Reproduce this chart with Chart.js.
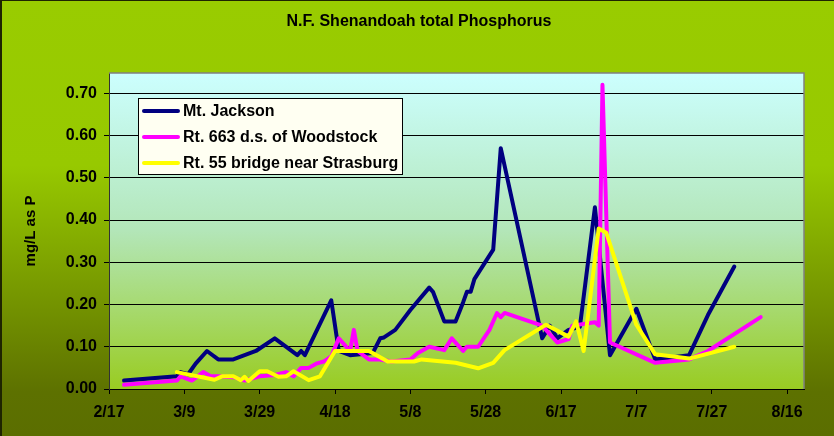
<!DOCTYPE html>
<html>
<head>
<meta charset="utf-8">
<script src="https://cdn.jsdelivr.net/npm/chart.js@4.4.0/dist/chart.umd.min.js"></script>
<style>
  html, body { margin: 0; padding: 0; background: #5c7000; }
  #wrap { width: 834px; height: 436px; }
</style>
</head>
<body>
<div id="wrap"><canvas id="phos" width="834" height="436"></canvas></div>
<script>
// x axis tick labels (every 20 days)
const tickLabels = ['2/17', '3/9', '3/29', '4/18', '5/8', '5/28', '6/17', '7/7', '7/27', '8/16'];

const seriesNames = ['Mt. Jackson', 'Rt. 663 d.s. of Woodstock', 'Rt. 55 bridge near Strasburg'];

// Mt. Jackson
const jacksonDates = ['2/21', '3/7', '3/8', '3/10', '3/12', '3/15', '3/18', '3/22', '3/28', '4/2', '4/8', '4/9', '4/10',
  '4/17', '4/19', '4/22', '4/28', '4/30', '5/1', '5/4', '5/8', '5/13', '5/14', '5/17', '5/20', '5/22', '5/23', '5/24',
  '5/25', '5/30', '6/1', '6/12', '6/14', '6/16', '6/19', '6/22', '6/26', '6/30', '7/7', '7/12', '7/21', '7/26', '8/2'];
const jacksonValues = [0.02, 0.03, 0.04, 0.035, 0.06, 0.09, 0.07, 0.07, 0.09, 0.12, 0.08, 0.09, 0.08,
  0.21, 0.09, 0.08, 0.085, 0.12, 0.122, 0.14, 0.187, 0.24, 0.23, 0.16, 0.16, 0.205, 0.23, 0.23,
  0.26, 0.33, 0.57, 0.12, 0.15, 0.12, 0.14, 0.147, 0.43, 0.08, 0.19, 0.07, 0.08, 0.175, 0.29];

// Rt. 663 d.s. of Woodstock
const woodstockDates = ['2/21', '3/7', '3/8', '3/11', '3/14', '3/16', '3/18', '3/22', '3/25', '3/29', '4/2', '4/5', '4/7',
  '4/9', '4/11', '4/13', '4/15', '4/17', '4/19', '4/22', '4/23', '4/24', '4/27', '4/30', '5/3', '5/8', '5/10', '5/13',
  '5/17', '5/19', '5/22', '5/23', '5/26', '5/29', '5/31', '6/1', '6/2', '6/12', '6/14', '6/16', '6/19', '6/20', '6/26',
  '6/27', '6/28', '6/30', '7/12', '7/21', '7/26', '8/9'];
const woodstockValues = [0.01, 0.02, 0.03, 0.02, 0.04, 0.03, 0.03, 0.028, 0.02, 0.03, 0.033, 0.04, 0.03,
  0.05, 0.05, 0.06, 0.065, 0.077, 0.12, 0.09, 0.14, 0.09, 0.07, 0.07, 0.065, 0.07, 0.085, 0.1,
  0.092, 0.12, 0.09, 0.1, 0.1, 0.14, 0.18, 0.17, 0.18, 0.15, 0.13, 0.11, 0.118, 0.15, 0.158,
  0.15, 0.72, 0.11, 0.062, 0.07, 0.09, 0.17];

// Rt. 55 bridge near Strasburg
const strasburgDates = ['3/7', '3/17', '3/19', '3/22', '3/24', '3/25', '3/26', '3/29', '3/31', '4/3', '4/5', '4/7',
  '4/11', '4/14', '4/18', '4/27', '5/2', '5/9', '5/11', '5/20', '5/26', '5/30', '6/2', '6/13', '6/19', '6/21', '6/23',
  '6/27', '6/29', '7/7', '7/12', '7/21', '8/2'];
const strasburgValues = [0.04, 0.022, 0.03, 0.03, 0.021, 0.029, 0.019, 0.042, 0.042, 0.029, 0.03, 0.042,
  0.021, 0.03, 0.09, 0.09, 0.065, 0.065, 0.07, 0.062, 0.049, 0.062, 0.092, 0.152, 0.124, 0.16, 0.09,
  0.38, 0.37, 0.152, 0.082, 0.072, 0.1];

// days since 2/17
function dayOf(md) {
  const p = md.split('/');
  return (Date.UTC(2003, p[0] - 1, +p[1]) - Date.UTC(2003, 1, 17)) / 86400000;
}
function points(dates, vals) {
  return dates.map((d, i) => ({ x: dayOf(d), y: vals[i] }));
}

const FONT = '"Liberation Sans", Arial, sans-serif';
Chart.defaults.font.family = FONT;
Chart.defaults.font.size = 16;
Chart.defaults.font.weight = 'bold';
Chart.defaults.color = '#000';

const backdrop = {
  id: 'backdrop',
  beforeDraw(chart) {
    const { ctx, width, height, chartArea: a } = chart;
    ctx.save();
    let g = ctx.createLinearGradient(0, 0, 0, height);
    g.addColorStop(0, '#99cc00');
    g.addColorStop(0.38, '#97c900');
    g.addColorStop(0.9, '#5d7100');
    g.addColorStop(1, '#5b6e00');
    ctx.fillStyle = g;
    ctx.fillRect(0, 0, width, height);
    ctx.fillStyle = '#1e2400';
    ctx.fillRect(0, 0, width, 1);
    ctx.fillRect(0, 0, 2, height);

    g = ctx.createLinearGradient(0, a.top, 0, a.bottom);
    g.addColorStop(0, '#ccffff');
    g.addColorStop(0.5, '#b3e6b8');
    g.addColorStop(1, '#99cc22');
    ctx.fillStyle = g;
    ctx.fillRect(a.left, a.top, a.right - a.left, a.bottom - a.top);

    ctx.fillStyle = '#000';
    ctx.font = 'bold 16px ' + FONT;
    ctx.textAlign = 'center';
    ctx.textBaseline = 'middle';
    ctx.fillText('N.F. Shenandoah total Phosphorus', 419, 22);
    ctx.restore();
  },
  afterDraw(chart) {
    const { ctx, chartArea: a } = chart;
    ctx.save();
    ctx.strokeStyle = '#808080';
    ctx.lineWidth = 1.5;
    ctx.beginPath();
    ctx.moveTo(a.left, a.top);
    ctx.lineTo(a.right, a.top);
    ctx.lineTo(a.right, a.bottom);
    ctx.stroke();

    // legend box
    const bx = 138.5, by = 98.5, bw = 264, bh = 76;
    ctx.fillStyle = '#fffff2';
    ctx.fillRect(bx, by, bw, bh);
    ctx.strokeStyle = '#000';
    ctx.lineWidth = 1;
    ctx.strokeRect(bx, by, bw, bh);
    ctx.font = 'bold 16px ' + FONT;
    ctx.textAlign = 'left';
    ctx.textBaseline = 'middle';
    chart.data.datasets.forEach((ds, i) => {
      const y = 111 + i * 26;
      ctx.strokeStyle = ds.borderColor;
      ctx.lineWidth = 4;
      ctx.lineCap = 'round';
      ctx.beginPath();
      ctx.moveTo(144, y);
      ctx.lineTo(178, y);
      ctx.stroke();
      ctx.fillStyle = '#000';
      ctx.fillText(ds.label, 183, y + 1);
    });
    ctx.restore();
  }
};

const lineStyle = { borderWidth: 4, pointRadius: 0, tension: 0, borderJoinStyle: 'round', borderCapStyle: 'round', fill: false };

new Chart(document.getElementById('phos'), {
  type: 'line',
  data: {
    datasets: [
      { label: seriesNames[0], data: points(jacksonDates, jacksonValues), borderColor: '#000080', order: 3, ...lineStyle },
      { label: seriesNames[1], data: points(woodstockDates, woodstockValues), borderColor: '#ff00ff', order: 2, ...lineStyle },
      { label: seriesNames[2], data: points(strasburgDates, strasburgValues), borderColor: '#ffff00', order: 1, ...lineStyle }
    ]
  },
  options: {
    responsive: false,
    animation: false,
    layout: { padding: { left: 18, top: 73, right: 30, bottom: 0 } },
    plugins: { legend: { display: false }, tooltip: { enabled: false } },
    scales: {
      x: {
        type: 'linear',
        min: 0,
        max: 184.5,
        afterFit: (s) => { s.height = 47; },
        afterBuildTicks: (s) => { s.ticks = tickLabels.map(l => ({ value: dayOf(l) })); },
        ticks: {
          autoSkip: false,
          maxRotation: 0,
          padding: 9,
          callback: (v, i) => tickLabels[i]
        },
        grid: { drawOnChartArea: false, drawTicks: true, tickLength: 5, tickColor: '#000' },
        border: { color: '#000', width: 1 }
      },
      y: {
        min: 0,
        max: 0.748,
        afterFit: (s) => { s.width = 91; },
        ticks: {
          stepSize: 0.1,
          includeBounds: false,
          padding: 7,
          callback: (v) => v.toFixed(2)
        },
        grid: { color: '#000', tickColor: '#000', tickLength: 5, lineWidth: 1 },
        border: { color: '#333', width: 1 },
        title: { display: true, text: 'mg/L as P', font: { size: 15, weight: 'bold' }, padding: { top: 4, bottom: 4 } }
      }
    }
  },
  plugins: [backdrop]
});
</script>
</body>
</html>
